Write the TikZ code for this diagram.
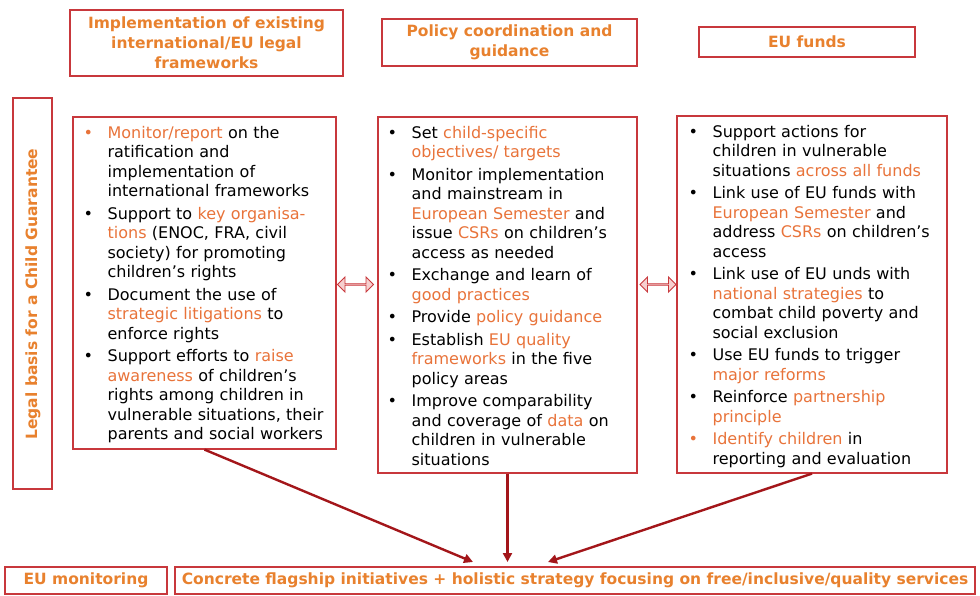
\documentclass[tikz,border=0pt]{standalone}
\usepackage{fontspec}
\setmainfont{DejaVu Sans}
\usetikzlibrary{shapes.arrows,arrows.meta,calc}
\definecolor{boxred}{HTML}{C8383C}
\definecolor{hdor}{HTML}{E8812E}
\definecolor{hlor}{HTML}{E8733A}
\definecolor{arrred}{HTML}{A3161A}
\definecolor{dapink}{HTML}{F6CFCF}
\newcommand\hlt[1]{\textcolor{hlor}{#1}}
\newcommand\itm[2][black]{\par\hangindent=24pt\hangafter=1\noindent\makebox[24pt][l]{\textcolor{#1}{•}}#2\par}
\tikzset{
  box/.style={draw=boxred, line width=1.2pt, rectangle, inner sep=0pt},
  hd/.style={text=hdor, font=\fontsize{15.5}{20}\selectfont\bfseries, align=center},
  body/.style={anchor=north west, inner sep=0pt, text width=250pt,
    font=\fontsize{16}{19.5}\selectfont\setlength\parskip{3pt}},
  dbl/.style={double arrow, draw=boxred, fill=dapink, line width=0.9pt,
    minimum width=15pt, minimum height=36pt, double arrow head extend=4pt, inner sep=0pt},
  conn/.style={draw=arrred, line width=2.4pt, -{Triangle[length=9pt,width=9pt]}}
}
\begin{document}
\begin{tikzpicture}[x=1pt,y=1pt]
\useasboundingbox (0,0) rectangle (980,-596);
% headings
\node[box, minimum width=273pt, minimum height=66pt, hd] (h1) at (206.5,-43) {Implementation of existing\\international/EU legal\\frameworks};
\node[box, minimum width=255pt, minimum height=47pt, hd] (h2) at (509.5,-42.5) {Policy coordination and\\guidance};
\node[box, minimum width=216pt, minimum height=30pt, hd] (h3) at (807,-42) {EU funds};
% left vertical
\node[box, minimum width=39pt, minimum height=391pt] (lb) at (32.5,-293.5) {};
\node[hd, rotate=90, font=\fontsize{15.5}{18}\selectfont\bfseries] (lbt) at (33,-294) {Legal basis for a Child Guarantee};
% content boxes
\node[box, minimum width=263pt, minimum height=332pt] (b1) at (204.5,-283) {};
\node[box, minimum width=259pt, minimum height=356pt] (b2) at (507.5,-295) {};
\node[box, minimum width=270pt, minimum height=357pt] (b3) at (812,-294.5) {};
\node[body] (t1) at ($(b1.north west)+(11,1)$) {%
\itm[hlor]{\hlt{Monitor/report} on the\newline ratification and\newline implementation of\newline international frameworks}
\itm{Support to \hlt{key organisa-}\newline \hlt{tions} (ENOC, FRA, civil\newline society) for promoting\newline children’s rights}
\itm{Document the use of\newline \hlt{strategic litigations} to\newline enforce rights}
\itm{Support efforts to \hlt{raise}\newline \hlt{awareness} of children’s\newline rights among children in\newline vulnerable situations, their\newline parents and social workers}};
\node[body] (t2) at ($(b2.north west)+(10,1)$) {%
\itm{Set \hlt{child-specific}\newline \hlt{objectives/ targets}}
\itm{Monitor implementation\newline and mainstream in\newline \hlt{European Semester} and\newline issue \hlt{CSRs} on children’s\newline access as needed}
\itm{Exchange and learn of\newline \hlt{good practices}}
\itm{Provide \hlt{policy guidance}}
\itm{Establish \hlt{EU quality}\newline \hlt{frameworks} in the five\newline policy areas}
\itm{Improve comparability\newline and coverage of \hlt{data} on\newline children in vulnerable\newline situations}};
\node[body] (t3) at ($(b3.north west)+(12,1)$) {%
\itm{Support actions for\newline children in vulnerable\newline situations \hlt{across all funds}}
\itm{Link use of EU funds with\newline \hlt{European Semester} and\newline address \hlt{CSRs} on children’s\newline access}
\itm{Link use of EU unds with\newline \hlt{national strategies} to\newline combat child poverty and\newline social exclusion}
\itm{Use EU funds to trigger\newline \hlt{major reforms}}
\itm{Reinforce \hlt{partnership}\newline \hlt{principle}}
\itm[hlor]{\hlt{Identify children} in\newline reporting and evaluation}};
% double arrows
\node[dbl] (da1) at (355.5,-284.5) {};
\node[dbl] (da2) at (658,-284.5) {};
% bottom boxes
\node[box, minimum width=162pt, minimum height=27pt, hd] (mon) at (86,-580.5) {EU monitoring};
\node[box, minimum width=800pt, minimum height=27pt, hd] (flag) at (575,-580.5) {Concrete flagship initiatives + holistic strategy focusing on free/inclusive/quality services};
% connectors
\coordinate (e1) at (473,-562);
\coordinate (e2) at (507.5,-562);
\coordinate (e3) at (548,-562);
\draw[conn] (b1.south) -- (e1);
\draw[conn] (b2.south) -- (e2);
\draw[conn] (b3.south) -- (e3);
\end{tikzpicture}
\end{document}
